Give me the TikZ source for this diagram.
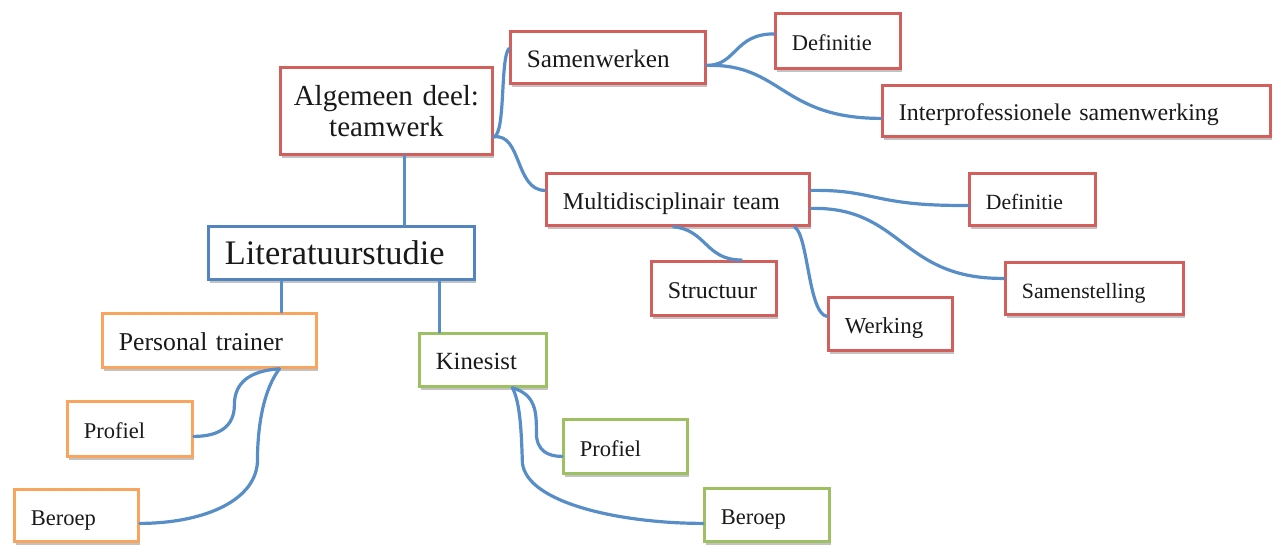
\documentclass[tikz,border=0pt]{standalone}
\usepackage{fontspec}
\setmainfont{Liberation Serif}
\usetikzlibrary{shadows}
\definecolor{cred}{RGB}{210,95,92}
\definecolor{corange}{RGB}{249,165,95}
\definecolor{cgreen}{RGB}{158,192,98}
\definecolor{cblue}{RGB}{82,132,192}
\definecolor{cline}{RGB}{88,142,200}
\tikzset{
  bxbase/.style={draw=#1, line width=2.8pt, fill=white, anchor=north west,
    inner xsep=16.5pt, inner ysep=0pt, align=left, text=black!90,
    drop shadow={shadow xshift=2pt, shadow yshift=-3.5pt, opacity=0.4, fill=black!60}},
  bx/.style={bxbase=#1, text depth=1pt, text height=21pt},
  link/.style={draw=cline, line width=3.2pt, line cap=round},
  fs/.style={font=\fontsize{#1}{#1}\selectfont},
}
\begin{document}
\begin{tikzpicture}[x=1pt,y=-1pt]
\useasboundingbox (0,0) rectangle (1274,544);
% red branch
\node[bxbase=cred, align=center, inner xsep=4pt, text width=204pt, minimum height=87pt,
  font=\fontsize{29}{31}\selectfont] (alg) at (279,66) {Algemeen deel:\\teamwerk};
\node[bx=cred, fs=25.2, text width=162pt, minimum height=52pt] (sam) at (509,30) {Samenwerken};
\node[bx=cred, fs=22.5, text width=92pt, minimum height=55pt] (def1) at (774,12) {Definitie};
\node[bx=cred, fs=23.9, text width=355pt, minimum height=51pt] (inter) at (881,84) {Interprofessionele samenwerking};
\node[bx=cred, fs=24.1, text width=230pt, minimum height=52pt] (multi) at (545,172) {Multidisciplinair team};
\node[bx=cred, fs=21.7, text width=93pt, minimum height=52pt] (def2) at (968,172) {Definitie};
\node[bx=cred, fs=24, text width=92pt, minimum height=54pt] (struct) at (650,260) {Structuur};
\node[bx=cred, fs=22.9, text width=91pt, minimum height=53pt] (werk) at (827,296) {Werking};
\node[bx=cred, fs=21.8, text width=145pt, minimum height=52pt] (samst) at (1004,261) {Samenstelling};
% blue
\node[bx=cblue, fs=34.4, text width=233pt, minimum height=53pt, text height=24pt] (lit) at (207,225) {Literatuurstudie};
% orange
\node[bx=corange, fs=25.7, text width=181pt, minimum height=54pt] (pt) at (101,312) {Personal trainer};
\node[bx=corange, fs=22.5, text width=92pt, minimum height=55pt] (profl) at (66,400) {Profiel};
\node[bx=corange, fs=22.5, text width=91pt, minimum height=52pt] (berl) at (13,488) {Beroep};
% green
\node[bx=cgreen, fs=24.7, text width=94pt, minimum height=53pt] (kin) at (418,332) {Kinesist};
\node[bx=cgreen, fs=22.5, text width=91pt, minimum height=54pt] (profr) at (562,418) {Profiel};
\node[bx=cgreen, fs=22.5, text width=92pt, minimum height=53pt] (berr) at (703,487) {Beroep};

% connectors
\draw[link] ([xshift=18pt]alg.south) -- ([xshift=18pt]alg.south |- lit.north);
\draw[link] ([yshift=-26pt]alg.east) .. controls +(12,-3) and +(-9,10) .. ([yshift=9pt]sam.west);
\draw[link] ([yshift=-26pt]alg.east) .. controls +(28,-4) and +(-30,0) .. ([yshift=9pt]multi.west);
\draw[link] ([yshift=-8pt]sam.east) .. controls +(30,0) and +(-40,0) .. ([yshift=7pt]def1.west);
\draw[link] ([yshift=-8pt]sam.east) .. controls +(75,-2) and +(-100,0) .. ([yshift=-7.5pt]inter.west);
\draw[link] ([yshift=9pt]multi.east) .. controls +(65,-1) and +(-95,1) .. ([yshift=-6pt]def2.west);
\draw[link] ([yshift=-9pt]multi.east) .. controls +(92,-2) and +(-104,1) .. ([yshift=10pt]samst.west);
\draw[link] ([xshift=-4.5pt]multi.south) .. controls +(33,3) and +(-36,0) .. ([xshift=27.5pt]struct.north);
\draw[link] ([xshift=116.5pt]multi.south) .. controls +(14,8) and +(-19,-3) .. ([yshift=7.5pt]werk.west);
\draw[link] ([xshift=-60pt]lit.south) -- ([xshift=-60pt]lit.south |- pt.north);
\draw[link] ([xshift=98pt]lit.south) -- ([xshift=98pt]lit.south |- kin.north);
\draw[link] ([xshift=70pt]pt.south) .. controls +(-30,2) and +(0,-22) .. ++(-45,36)
   .. controls +(0,22) and +(25,0) .. ([yshift=-7.5pt]profl.east);
\draw[link] ([xshift=70pt]pt.south) .. controls +(-15,20) and +(0,-40) .. ++(-22,94)
   .. controls +(-3,40) and +(60,0) .. ([yshift=-8pt]berl.east);
\draw[link] ([xshift=29.5pt]kin.south) .. controls +(24,7) and +(0,-20) .. ++(24,45)
   .. controls +(0,18) and +(-14,0) .. ([yshift=-10pt]profr.west);
\draw[link] ([xshift=29.5pt]kin.south) .. controls +(8,15) and +(-1,-30) .. ++(10,75)
   .. controls +(4,40) and +(-83,0) .. ([yshift=-8.5pt]berr.west);
\end{tikzpicture}
\end{document}
